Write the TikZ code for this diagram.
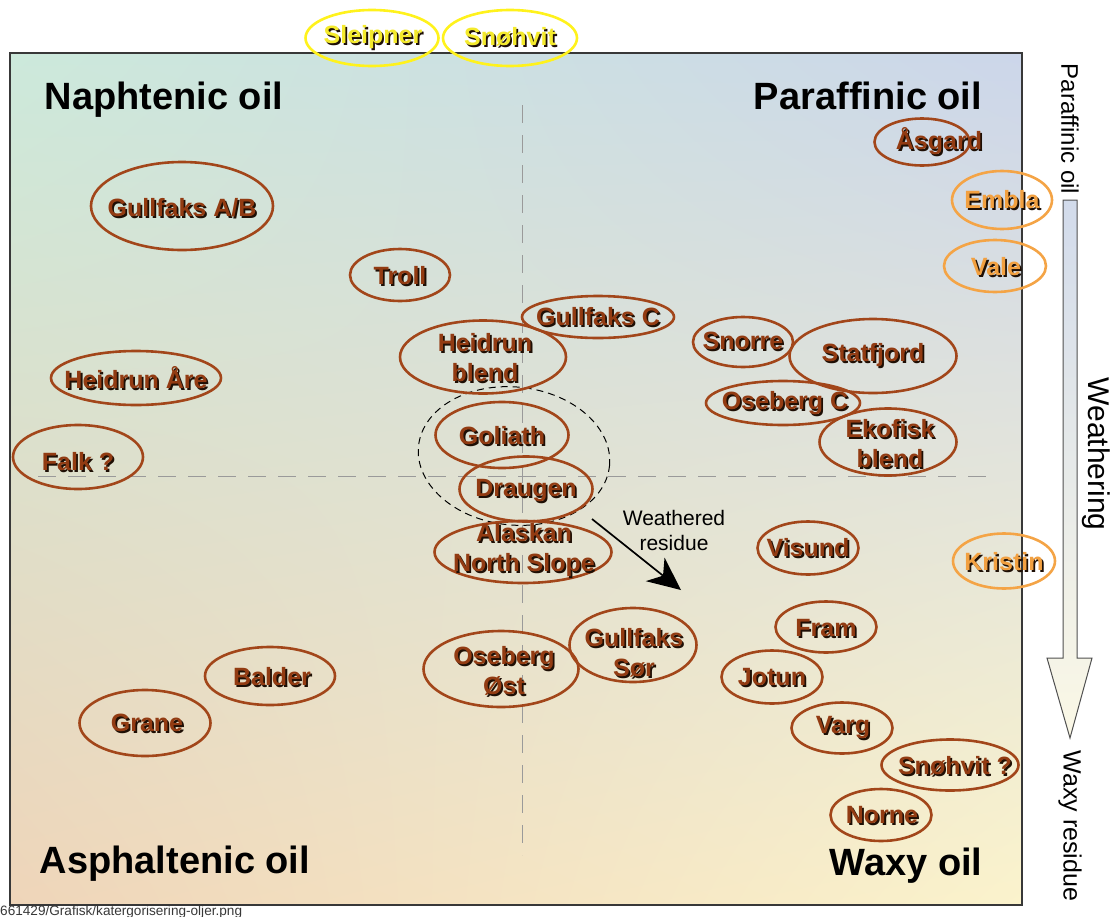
\documentclass[tikz,border=0pt]{standalone}
\usepackage{fontspec}
\setmainfont{Liberation Sans}
\usetikzlibrary{arrows.meta,shapes.geometric,shadings}
\definecolor{brownline}{HTML}{A2461A}
\definecolor{brownfill}{HTML}{923B12}
\definecolor{orangeline}{HTML}{F4A446}
\definecolor{orangefill}{HTML}{F2A040}
\definecolor{yellowline}{HTML}{FFF21C}
\definecolor{yellowfill}{HTML}{F4EA2C}
\definecolor{shadowc}{HTML}{1E0F05}
\definecolor{bgTL}{HTML}{CCE9DB}
\definecolor{bgTR}{HTML}{CCD6EA}
\definecolor{bgBL}{HTML}{EFD5B9}
\definecolor{bgBR}{HTML}{FBF3CC}
\definecolor{framec}{HTML}{383838}
\definecolor{gridc}{HTML}{9A9A9A}
\definecolor{arrTop}{HTML}{D2DBEB}
\definecolor{arrBot}{HTML}{FBF8E6}
\definecolor{arrLine}{HTML}{505050}
\newcommand\oilN[9]{%
  \node[oilell, draw=#8line, minimum width=#4pt, minimum height=#5pt] (#1) at (#2,-#3) {};
  \node[oiltxt, text=shadowc] (#1s) at (#6+1.8,-#7-1.8) {#9};
  \node[oiltxt, text=#8fill] (#1t) at (#6,-#7) {#9};
}
\tikzset{
  oilell/.style={ellipse, line width=2.6pt, inner sep=0pt},
  oiltxt/.style={font=\fontsize{25}{30}\selectfont\bfseries, align=center, inner sep=0pt},
  quad/.style={font=\fontsize{38}{44}\selectfont\bfseries, inner sep=0pt, anchor=base},
  side/.style={rotate=-90, inner sep=0pt},
  gridline/.style={draw=gridc, line width=1pt, dash pattern=on 18pt off 12pt},
}
\begin{document}
\begin{tikzpicture}[x=1pt,y=1pt]
\useasboundingbox (0,0) rectangle (1111,-916);
% background frame
\node[draw=framec, line width=1.5pt, minimum width=1012pt, minimum height=852pt, inner sep=0pt,
  upper left=bgTL, upper right=bgTR, lower left=bgBL, lower right=bgBR] (frame) at (516,-479) {};
% grid lines
\coordinate (vt) at (522,-105);
\coordinate (vb) at (522,-855);
\coordinate (hl) at (38,-476);
\coordinate (hr) at (990,-476);
\draw[gridline] (vt) -- (vb);
\draw[gridline] (hl) -- (hr);
% quadrant titles
\node[quad] (naph) at (164,-109) {Naphtenic oil};
\node[quad] (para) at (868,-109) {Paraffinic oil};
\node[quad] (asph) at (175,-873) {Asphaltenic oil};
\node[quad] (waxy) at (906,-875) {Waxy oil};
% dashed group
\node[ellipse, draw=black, line width=1pt, dash pattern=on 7pt off 5pt, minimum width=192pt, minimum height=138pt, rotate=-6] (grp) at (514,-456) {};
% oils
\oilN{sleipner}{372}{38}{133}{56}{373}{37}{yellow}{Sleipner}
\oilN{snohvitY}{510}{38}{134}{56}{510}{37}{yellow}{Snøhvit}
\oilN{gullAB}{182}{206}{182}{88}{182}{208}{brown}{Gullfaks A/B}
\oilN{troll}{400}{275}{100}{52}{400}{276}{brown}{Troll}
\oilN{gullC}{598}{317}{152}{42}{598}{317}{brown}{Gullfaks C}
\oilN{heidb}{483}{357}{166}{73}{485}{358}{brown}{Heidrun\\blend}
\oilN{heida}{136}{378}{170}{54}{136}{378}{brown}{Heidrun Åre}
\oilN{falk}{78}{457}{130}{64}{78}{462}{brown}{Falk ?}
\oilN{goliath}{502}{435}{133}{66}{502}{436}{brown}{Goliath}
\oilN{draugen}{526}{489}{133}{65}{526}{491}{brown}{Draugen}
\oilN{alaska}{523}{552}{177}{62}{524}{550}{brown}{Alaskan\\North Slope}
\oilN{asgard}{922}{142}{95}{47}{939}{141}{brown}{Åsgard}
\oilN{embla}{1002}{200}{100}{58}{1002}{200}{orange}{Embla}
\oilN{vale}{995}{266}{102}{52}{996}{267}{orange}{Vale}
\oilN{snorre}{743}{342}{100}{50}{743}{341}{brown}{Snorre}
\oilN{statfj}{873}{356}{167}{74}{873}{355}{brown}{Statfjord}
\oilN{osebC}{783}{403}{154}{44}{785}{403}{brown}{Oseberg C}
\oilN{ekofisk}{888}{442}{137}{67}{890}{444}{brown}{Ekofisk\\blend}
\oilN{visund}{808}{548}{101}{53}{808}{548}{brown}{Visund}
\oilN{kristin}{1004}{561}{102}{55}{1004}{562}{orange}{Kristin}
\oilN{fram}{826}{627}{101}{51}{826}{628}{brown}{Fram}
\oilN{jotun}{772}{677}{101}{53}{772}{677}{brown}{Jotun}
\oilN{gullS}{633}{645}{127}{74}{634}{653}{brown}{Gullfaks\\Sør}
\oilN{osebO}{501}{669}{155}{76}{504}{671}{brown}{Oseberg\\Øst}
\oilN{balder}{270}{676}{130}{58}{272}{677}{brown}{Balder}
\oilN{grane}{145}{723}{131}{66}{147}{723}{brown}{Grane}
\oilN{varg}{842}{728}{101}{51}{843}{728}{brown}{Varg}
\oilN{snohvitQ}{950}{765}{137}{51}{955}{766}{brown}{Snøhvit ?}
\oilN{norne}{881}{815}{101}{52}{882}{815}{brown}{Norne}
% weathered residue arrow
\coordinate (ws) at (592,-519);
\coordinate (we) at (681,-590);
\draw[line width=1.7pt, -{Stealth[length=33pt,width=30pt,inset=10pt]}] (ws) -- (we);
\node[font=\fontsize{21}{25}\selectfont, align=center, inner sep=0pt] (wres) at (674,-530) {Weathered\\residue};
% right side weathering arrow
\shadedraw[top color=arrTop, bottom color=arrBot, draw=arrLine, line width=1pt]
  (1063,-200) -- (1077,-200) -- (1077,-658) -- (1092,-658) -- (1070,-738) -- (1047,-658) -- (1063,-658) -- cycle;
\node[side, font=\fontsize{24}{28}\selectfont] (sidepar) at (1070,-129) {Paraffinic oil};
\node[side, font=\fontsize{30}{34}\selectfont] (sidew) at (1096,-454) {Weathering};
\node[side, font=\fontsize{25}{28}\selectfont] (sidewax) at (1070,-826) {Waxy residue};
% footer
\node[anchor=base west, inner sep=0pt, font=\fontsize{13.6}{15}\selectfont, text=framec] (foot) at (0,-915) {661429/Grafisk/katergorisering-oljer.png};
\end{tikzpicture}
\end{document}
